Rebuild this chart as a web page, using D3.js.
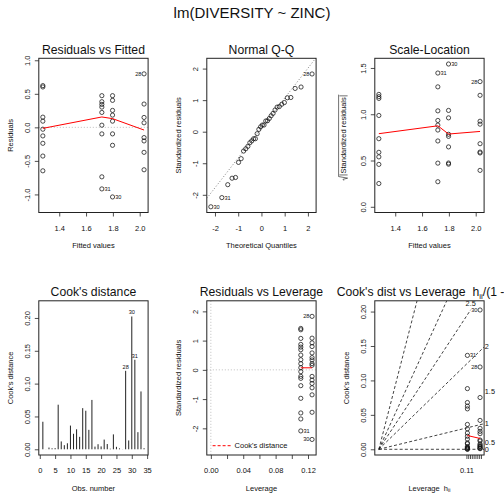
<!DOCTYPE html>
<html><head><meta charset="utf-8">
<script src="https://cdn.jsdelivr.net/npm/d3@7"></script>
<style>
html,body{margin:0;padding:0;background:#fff;}
svg{display:block;}
</style></head><body>
<svg id="chart" width="504" height="504"></svg>
<script>
// ---------------- data ----------------
const zincLevels = ["BACK","HIGH","LOW","MED"];
const obsZinc = ["BACK","HIGH","HIGH","MED","BACK","HIGH","BACK","BACK","HIGH","MED","MED","BACK","MED","HIGH","HIGH","HIGH","LOW","LOW","LOW","LOW","MED","MED","LOW","LOW","HIGH","HIGH","MED","LOW","BACK","BACK","MED","LOW","MED","BACK"];
const diversity = [2.27,1.25,1.15,1.62,1.70,0.63,2.05,1.98,1.04,2.19,2.10,2.20,2.06,1.90,1.88,0.85,1.40,2.18,1.83,1.88,2.02,1.94,2.10,2.38,1.43,1.37,1.75,2.83,1.53,0.76,0.80,1.66,0.98,1.89];
// red smoother values (at ascending x levels)
const smoothRvF = [-0.015, 0.155, 0.13, -0.04];
const smoothSL = [0.79, 0.875, 0.786, 0.814];
const smoothRvL = [0.07, 0.07];
const smoothCvL = [0.020, 0.0157];
// tick values
const ticksFittedX = [1.4, 1.6, 1.8, 2.0];
const ticksResidY = [-1.0, -0.5, 0.0, 0.5, 1.0];
const ticksQQ = [-2, -1, 0, 1, 2];
const ticksScaleY = [0.0, 0.5, 1.0, 1.5];
const ticksObsX = [0, 5, 10, 15, 20, 25, 30, 35];
const ticksCookY = [0.00, 0.05, 0.10, 0.15, 0.20];
const ticksLevX = [0.00, 0.02, 0.04, 0.06, 0.08, 0.10, 0.12];
const labelsLevX = [0.00, 0.04, 0.08, 0.12];
const ticksStdY = [-2, -1, 0, 1, 2];
const ticksHat = [0.110, 0.112, 0.114, 0.116, 0.118, 0.120, 0.122, 0.124, 0.126];
const labelsHat = [0.11];
const contourLevels = [0, 0.5, 1, 1.5, 2, 2.5];
const mainTitle = "lm(DIVERSITY ~ ZINC)";

// ---------------- model ----------------
const n = diversity.length, p = zincLevels.length;
const gMean = {}, gN = {};
zincLevels.forEach(z => {
  const v = diversity.filter((d, i) => obsZinc[i] === z);
  gN[z] = v.length; gMean[z] = d3.mean(v);
});
const fitted = obsZinc.map(z => gMean[z]);
const resid = diversity.map((v, i) => v - fitted[i]);
const hat = obsZinc.map(z => 1 / gN[z]);
const s = Math.sqrt(d3.sum(resid, e => e * e) / (n - p));
const stdRes = resid.map((e, i) => e / (s * Math.sqrt(1 - hat[i])));
const cook = stdRes.map((r, i) => r * r * hat[i] / (p * (1 - hat[i])));
const gLev = hat.map(h => h / (1 - h));

function qnorm(pp) {
  const a=[-3.969683028665376e+01,2.209460984245205e+02,-2.759285104469687e+02,1.383577518672690e+02,-3.066479806614716e+01,2.506628277459239e+00];
  const b=[-5.447609879822406e+01,1.615858368580409e+02,-1.556989798598866e+02,6.680131188771972e+01,-1.328068155288572e+01];
  const c=[-7.784894002430293e-03,-3.223964580411365e-01,-2.400758277161838e+00,-2.549732539343734e+00,4.374664141464968e+00,2.938163982698783e+00];
  const d=[7.784695709041462e-03,3.224671290700398e-01,2.445134137142996e+00,3.754408661907416e+00];
  const pl = 0.02425, ph = 1 - pl; let q, r;
  if (pp < pl) { q = Math.sqrt(-2*Math.log(pp)); return (((((c[0]*q+c[1])*q+c[2])*q+c[3])*q+c[4])*q+c[5])/((((d[0]*q+d[1])*q+d[2])*q+d[3])*q+1); }
  if (pp > ph) { q = Math.sqrt(-2*Math.log(1-pp)); return -(((((c[0]*q+c[1])*q+c[2])*q+c[3])*q+c[4])*q+c[5])/((((d[0]*q+d[1])*q+d[2])*q+d[3])*q+1); }
  q = pp - 0.5; r = q*q;
  return (((((a[0]*r+a[1])*r+a[2])*r+a[3])*r+a[4])*r+a[5])*q/(((((b[0]*r+b[1])*r+b[2])*r+b[3])*r+b[4])*r+1);
}

// ---------------- layout helpers ----------------
const FONT = '"Liberation Sans", Arial, Helvetica, sans-serif';
const TXT = "#111";
const PW = 109.3, PH = 154.2;
const svg = d3.select("#chart").attr("font-family", FONT);

const pad4 = ([lo, hi]) => { const d = (hi - lo) * 0.04; return [lo - d, hi + d]; };
const ext = ([lo, hi], f) => { const d = (hi - lo) * f; return [lo - d, hi + d]; };
const fmtR = k => v => d3.format("." + k + "f")(v).replace("\u2212", "-");
const fmtI = v => String(v).replace("\u2212", "-");

let clipId = 0;
function makePanel(col, row, xDom, yDom) {
  const x0 = 38.8 + 168 * col, y0 = 58.3 + 242.5 * row;
  const f = { x0, y0, x1: x0 + PW, y1: y0 + PH };
  const x = d3.scaleLinear().domain(xDom).range([f.x0, f.x1]);
  const y = d3.scaleLinear().domain(yDom).range([f.y1, f.y0]);
  const g = svg.append("g");
  const id = "clip" + (clipId++);
  svg.append("clipPath").attr("id", id).append("rect")
    .attr("x", f.x0).attr("y", f.y0).attr("width", PW).attr("height", PH);
  const inner = g.append("g").attr("clip-path", `url(#${id})`);
  return { f, x, y, g, inner };
}
function box(P) {
  P.g.append("rect").attr("x", P.f.x0).attr("y", P.f.y0).attr("width", PW).attr("height", PH)
    .attr("fill", "none").attr("stroke", "#222").attr("stroke-width", 1);
}
function title(P, text) {
  P.g.append("text").attr("x", (P.f.x0 + P.f.x1) / 2).attr("y", P.f.y0 - 4.8)
    .attr("text-anchor", "middle").attr("font-size", 12.2).attr("fill", TXT).text(text);
}
function xAxis(P, ticks, fmt, labelled) {
  const ax = d3.axisBottom(P.x).tickValues(ticks)
    .tickFormat(d => (labelled && !labelled.some(v => Math.abs(v - d) < 1e-9)) ? "" : fmt(d))
    .tickSize(4).tickSizeOuter(0).tickPadding(8.9);
  const a = P.g.append("g").attr("transform", `translate(0,${P.f.y1})`).call(ax)
    .attr("font-family", FONT).attr("font-size", 7.5);
  a.select(".domain").remove();
  a.selectAll(".tick line").attr("stroke", "#222").attr("stroke-width", 0.8);
  a.selectAll(".tick text").attr("fill", TXT);
  return a;
}
function yAxis(P, ticks, fmt) {
  const ax = d3.axisLeft(P.y).tickValues(ticks).tickFormat(fmt).tickSize(4).tickSizeOuter(0);
  const a = P.g.append("g").attr("transform", `translate(${P.f.x0},0)`).call(ax)
    .attr("font-family", FONT).attr("font-size", 7.5);
  a.select(".domain").remove();
  a.selectAll(".tick line").attr("stroke", "#222").attr("stroke-width", 0.8);
  a.selectAll(".tick text").attr("fill", TXT).attr("transform", "rotate(-90)")
    .attr("x", 0).attr("y", -9.3).attr("dy", null).attr("text-anchor", "middle");
}
function xLabel(P, text) {
  return P.g.append("text").attr("x", (P.f.x0 + P.f.x1) / 2).attr("y", P.f.y1 + 35.5)
    .attr("text-anchor", "middle").attr("font-size", 7.5).attr("fill", TXT).text(text);
}
function yLabel(P, text) {
  const cy = (P.f.y0 + P.f.y1) / 2;
  P.g.append("text").attr("transform", `translate(${P.f.x0 - 26.3},${cy}) rotate(-90)`)
    .attr("text-anchor", "middle").attr("font-size", 7.5).attr("fill", TXT).text(text);
}
function points(P, xs, ys) {
  P.inner.selectAll(null).data(d3.range(xs.length)).join("circle")
    .attr("cx", i => P.x(xs[i])).attr("cy", i => P.y(ys[i])).attr("r", 2.1)
    .attr("fill", "none").attr("stroke", "#111").attr("stroke-width", 0.75);
}
function redLine(P, xs, ys) {
  P.inner.append("path").attr("d", d3.line().x((d, i) => P.x(xs[i])).y(d => P.y(d))(ys))
    .attr("fill", "none").attr("stroke", "#ff0000").attr("stroke-width", 1);
}
function idLabels(P, xs, ys, ids) {
  const xmax = d3.max(xs);
  ids.forEach(i => {
    const left = xs[i] >= xmax - 1e-9;
    P.g.append("text").attr("x", P.x(xs[i]) + (left ? -2.6 : 2.6)).attr("y", P.y(ys[i]))
      .attr("dy", "0.35em").attr("text-anchor", left ? "end" : "start")
      .attr("font-size", 5.6).attr("fill", TXT).text(i + 1);
  });
}
const topIds = vals => d3.range(n).sort((a, b) => Math.abs(vals[b]) - Math.abs(vals[a])).slice(0, 3);
const levels = arr => Array.from(new Set(arr)).sort((a, b) => a - b);

// main title
svg.append("text").attr("x", 252).attr("y", 18.4).attr("text-anchor", "middle")
  .attr("font-size", 15).attr("fill", TXT).text(mainTitle);

// ---------- 1. Residuals vs Fitted ----------
{
  const P = makePanel(0, 0, pad4(d3.extent(fitted)), pad4(ext(d3.extent(resid), 0.08)));
  P.inner.append("line").attr("x1", P.f.x0).attr("x2", P.f.x1).attr("y1", P.y(0)).attr("y2", P.y(0))
    .attr("stroke", "#bebebe").attr("stroke-dasharray", "1,2").attr("stroke-width", 1);
  points(P, fitted, resid);
  redLine(P, levels(fitted), smoothRvF);
  idLabels(P, fitted, resid, topIds(resid));
  box(P); title(P, "Residuals vs Fitted");
  xAxis(P, ticksFittedX, fmtR(1)); yAxis(P, ticksResidY, fmtR(1));
  xLabel(P, "Fitted values"); yLabel(P, "Residuals");
}

// ---------- 2. Normal Q-Q ----------
{
  const ord = d3.range(n).sort((a, b) => stdRes[a] - stdRes[b]);
  const qx = new Array(n), qy = new Array(n);
  ord.forEach((obs, k) => { qx[obs] = qnorm((k + 1 - 0.5) / n); qy[obs] = stdRes[obs]; });
  const yr = d3.extent(qy); yr[1] += (yr[1] - yr[0]) * 0.075;
  const P = makePanel(1, 0, pad4(d3.extent(qx)), pad4(yr));
  const sy = qy.slice().sort(d3.ascending);
  const y25 = d3.quantile(sy, 0.25), y75 = d3.quantile(sy, 0.75);
  const x25 = qnorm(0.25), x75 = qnorm(0.75);
  const slope = (y75 - y25) / (x75 - x25), icp = y25 - slope * x25;
  const xd = P.x.domain();
  P.inner.append("line").attr("x1", P.x(xd[0])).attr("y1", P.y(icp + slope * xd[0]))
    .attr("x2", P.x(xd[1])).attr("y2", P.y(icp + slope * xd[1]))
    .attr("stroke", "#7f7f7f").attr("stroke-dasharray", "1,2").attr("stroke-width", 1);
  points(P, qx, qy);
  idLabels(P, qx, qy, topIds(stdRes));
  box(P); title(P, "Normal Q-Q");
  xAxis(P, ticksQQ, fmtI); yAxis(P, ticksQQ, fmtI);
  xLabel(P, "Theoretical Quantiles"); yLabel(P, "Standardized residuals");
}

// ---------- 3. Scale-Location ----------
{
  const sq = stdRes.map(r => Math.sqrt(Math.abs(r)));
  const P = makePanel(2, 0, pad4(d3.extent(fitted)), pad4([0, d3.max(sq)]));
  points(P, fitted, sq);
  redLine(P, levels(fitted), smoothSL);
  idLabels(P, fitted, sq, topIds(stdRes));
  box(P); title(P, "Scale-Location");
  xAxis(P, ticksFittedX, fmtR(1)); yAxis(P, ticksScaleY, fmtR(1));
  xLabel(P, "Fitted values");
  // y label: sqrt(|Standardized residuals|)
  const cy = (P.f.y0 + P.f.y1) / 2;
  const grp = P.g.append("g").attr("transform", `translate(${P.f.x0 - 29},${cy}) rotate(-90)`);
  const t = grp.append("text").attr("text-anchor", "middle").attr("font-size", 7.5).attr("fill", TXT)
    .text("Standardized residuals");
  const w = t.node().getComputedTextLength();
  const top = -7.2, bot = 1.8;
  [-w / 2 - 1.4, w / 2 + 1.4].forEach(xx => grp.append("line").attr("x1", xx).attr("x2", xx)
    .attr("y1", top + 0.8).attr("y2", bot).attr("stroke", TXT).attr("stroke-width", 0.6));
  grp.append("line").attr("x1", -w / 2 - 3).attr("x2", w / 2 + 2.6).attr("y1", top).attr("y2", top)
    .attr("stroke", TXT).attr("stroke-width", 0.6);
  grp.append("path").attr("d", `M${-w / 2 - 7},${-2} L${-w / 2 - 5.8},${-2.8} L${-w / 2 - 4.6},${bot} L${-w / 2 - 3},${top}`)
    .attr("fill", "none").attr("stroke", TXT).attr("stroke-width", 0.6);
}

// ---------- 4. Cook's distance ----------
{
  const obs = d3.range(1, n + 1);
  const P = makePanel(0, 1, pad4([1, n]), pad4([0, d3.max(cook) * 1.075]));
  P.inner.selectAll(null).data(d3.range(n)).join("line")
    .attr("x1", i => P.x(obs[i])).attr("x2", i => P.x(obs[i]))
    .attr("y1", P.y(0)).attr("y2", i => P.y(cook[i]))
    .attr("stroke", "#222").attr("stroke-width", 1);
  topIds(cook).forEach(i => P.g.append("text").attr("x", P.x(obs[i])).attr("y", P.y(cook[i]) - 2)
    .attr("text-anchor", "middle").attr("font-size", 5.6).attr("fill", TXT).text(i + 1));
  box(P); title(P, "Cook's distance");
  xAxis(P, ticksObsX, fmtI); yAxis(P, ticksCookY, fmtR(2));
  xLabel(P, "Obs. number"); yLabel(P, "Cook's distance");
}

// ---------- 5. Residuals vs Leverage ----------
{
  const P = makePanel(1, 1, pad4([0, d3.max(hat)]), pad4(ext(d3.extent(stdRes), 0.08)));
  P.inner.append("line").attr("x1", P.f.x0).attr("x2", P.f.x1).attr("y1", P.y(0)).attr("y2", P.y(0))
    .attr("stroke", "#bebebe").attr("stroke-dasharray", "1,2");
  P.inner.append("line").attr("x1", P.x(0)).attr("x2", P.x(0)).attr("y1", P.f.y0).attr("y2", P.f.y1)
    .attr("stroke", "#bebebe").attr("stroke-dasharray", "1,2");
  points(P, hat, stdRes);
  redLine(P, levels(hat), smoothRvL);
  idLabels(P, hat, stdRes, topIds(cook));
  // legend
  const ly = P.f.y1 - 9.3;
  P.g.append("line").attr("x1", P.f.x0 + 5.8).attr("x2", P.f.x0 + 24.5).attr("y1", ly).attr("y2", ly)
    .attr("stroke", "#ff0000").attr("stroke-dasharray", "3,2").attr("stroke-width", 1);
  P.g.append("text").attr("x", P.f.x0 + 27.8).attr("y", ly).attr("dy", "0.35em")
    .attr("font-size", 7.5).attr("fill", TXT).text("Cook's distance");
  box(P); title(P, "Residuals vs Leverage");
  xAxis(P, ticksLevX, fmtR(2), labelsLevX); yAxis(P, ticksStdY, fmtI);
  xLabel(P, "Leverage"); yLabel(P, "Standardized residuals");
}

// ---------- 6. Cook's dist vs Leverage ----------
{
  const P = makePanel(2, 1, pad4([0, d3.max(gLev)]), pad4([0, d3.max(cook) * 1.025]));
  const [, xmax] = P.x.domain(), [, ymax] = P.y.domain();
  const ux = P.x.invert(P.f.x0 + 0.7) - P.x.invert(P.f.x0);   // strwidth(" ")/3
  const uh = P.y.invert(P.f.y1 - 6) - P.y.invert(P.f.y1);      // strheight
  contourLevels.forEach(b => {
    const b2 = b * b;
    if (p * ymax > b2 * xmax) {
      const xi = xmax + ux, yi = b2 * xi / p;
      const xe = b2 > 0 ? Math.min(xmax, ymax / b2) : xmax;
      P.inner.append("line").attr("x1", P.x(0)).attr("y1", P.y(0)).attr("x2", P.x(xe)).attr("y2", P.y(b2 * xe))
        .attr("stroke", "#111").attr("stroke-dasharray", "3,2.2").attr("stroke-width", 0.8);
      P.g.append("text").attr("x", P.x(xi)).attr("y", P.y(yi)).attr("dy", "0.35em")
        .attr("font-size", 7.3).attr("fill", TXT).text(b);
    } else {
      const yi = ymax - 1.5 * uh, xi = p * yi / b2;
      P.inner.append("line").attr("x1", P.x(0)).attr("y1", P.y(0)).attr("x2", P.x(xi)).attr("y2", P.y(yi))
        .attr("stroke", "#111").attr("stroke-dasharray", "3,2.2").attr("stroke-width", 0.8);
      P.g.append("text").attr("x", P.x(xi)).attr("y", P.y(ymax - 0.8 * uh))
        .attr("text-anchor", "middle").attr("font-size", 7.3).attr("fill", TXT).text(b);
    }
  });
  points(P, gLev, cook);
  redLine(P, levels(gLev), smoothCvL);
  idLabels(P, gLev, cook, topIds(cook));
  box(P);
  // title with subscripts
  const tt = P.g.append("text").attr("x", (P.f.x0 + P.f.x1) / 2).attr("y", P.f.y0 - 4.8)
    .attr("text-anchor", "middle").attr("font-size", 12.2).attr("fill", TXT);
  tt.append("tspan").text("Cook's dist vs Leverage\u00a0\u00a0h");
  tt.append("tspan").attr("dy", 2.6).attr("font-size", 8).text("ii");
  tt.append("tspan").attr("dy", -2.6).text("/(1 - h");
  tt.append("tspan").attr("dy", 2.6).attr("font-size", 8).text("ii");
  tt.append("tspan").attr("dy", -2.6).text(")");
  xAxis(P, ticksHat.map(a => a / (1 - a)), v => fmtI(+(v / (1 + v)).toFixed(3)),
    labelsHat.map(a => a / (1 - a)));
  yAxis(P, ticksCookY, fmtR(2));
  const xl = xLabel(P, "");
  xl.append("tspan").text("Leverage\u00a0\u00a0h");
  xl.append("tspan").attr("dy", 1.8).attr("font-size", 5.5).text("ii");
  yLabel(P, "Cook's distance");
}
</script>
</body></html>
